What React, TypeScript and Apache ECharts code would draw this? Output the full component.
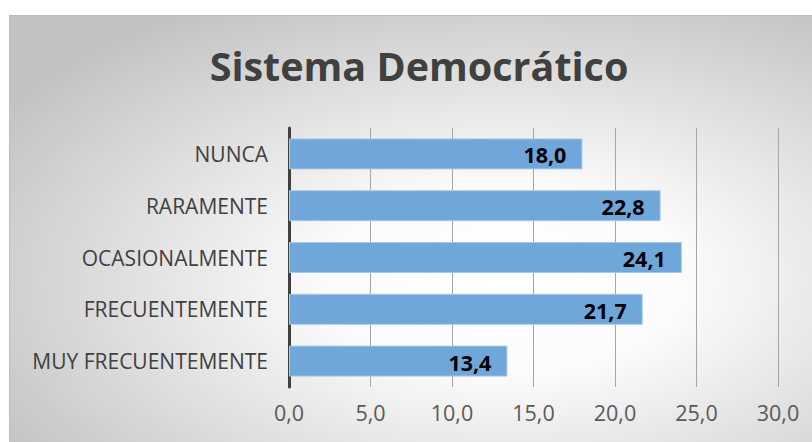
import React, { useEffect, useRef } from "react";
import * as echarts from "echarts";

const categories = ["NUNCA", "RARAMENTE", "OCASIONALMENTE", "FRECUENTEMENTE", "MUY FRECUENTEMENTE"];
const values = [18.0, 22.8, 24.1, 21.7, 13.4];
const titleText = "Sistema Democrático";

const fmt = (v: number) => v.toFixed(1).replace(".", ",");

export default function App() {
  const ref = useRef<HTMLDivElement>(null);
  useEffect(() => {
    if (!ref.current) return;
    const chart = echarts.init(ref.current, null, { renderer: "svg" });
    chart.setOption({
      animation: false,
      backgroundColor: {
        type: "radial",
        x: 0.62,
        y: 0.62,
        r: 0.75,
        colorStops: [
          { offset: 0, color: "#ffffff" },
          { offset: 0.3, color: "#fbfbfb" },
          { offset: 1, color: "#c2c2c2" },
        ],
      },
      title: {
        text: titleText,
        left: 404,
        top: 45,
        textAlign: "center",
        textVerticalAlign: "middle",
        textStyle: {
          fontFamily: "Open Sans",
          fontWeight: "bold",
          fontSize: 39.5,
          color: "#404040",
        },
      },
      grid: { left: 279, right: 34, top: 112, bottom: 55 },
      xAxis: {
        type: "value",
        min: 0,
        max: 30,
        interval: 5,
        axisLine: { show: false },
        axisTick: { show: false },
        splitLine: { lineStyle: { color: "#a6a6a6", width: 1 } },
        axisLabel: {
          formatter: (v: number) => fmt(v),
          fontFamily: "Open Sans",
          fontSize: 21.5,
          color: "#595959",
          margin: 14,
        },
      },
      yAxis: {
        type: "category",
        data: categories,
        inverse: true,
        axisLine: { lineStyle: { color: "#404040", width: 3 } },
        axisTick: { show: false },
        axisLabel: {
          fontFamily: "Open Sans",
          fontSize: 21,
          color: "#404040",
          margin: 21,
        },
      },
      series: [
        {
          type: "bar",
          data: values,
          barWidth: 31,
          itemStyle: { color: "#6fa7db", borderColor: "#a8c8e8", borderWidth: 1 },
          label: {
            show: true,
            position: "insideRight",
            distance: 16,
            offset: [0, 1],
            formatter: (p: any) => fmt(p.value),
            fontFamily: "Open Sans",
            fontWeight: "bold",
            fontSize: 21.5,
            color: "#000000",
          },
        },
      ],
    });
    return () => chart.dispose();
  }, []);
  return (
    <div style={{ position: "fixed", left: 0, top: 0, width: 812, height: 442, background: "#ffffff" }}>
      <div
        style={{
          position: "absolute",
          left: 9,
          top: 15,
          width: 803,
          height: 427,
          borderLeft: "1px solid #bdbdbd",
          borderTop: "1px solid #bdbdbd",
          boxSizing: "border-box",
        }}
      >
        <div ref={ref} style={{ width: 802, height: 426 }} />
      </div>
    </div>
  );
}
